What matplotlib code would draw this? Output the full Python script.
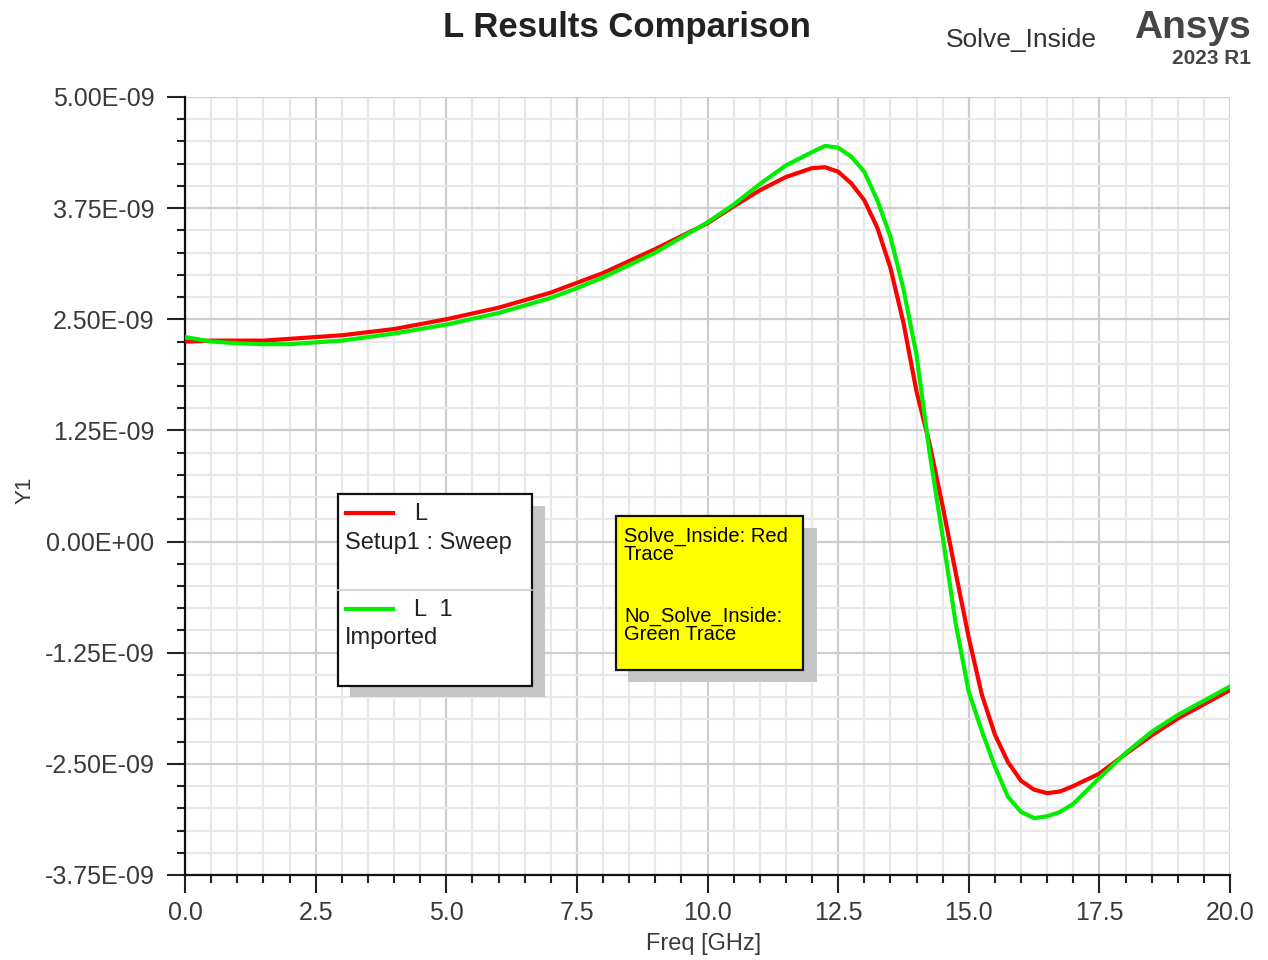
import numpy as np
import matplotlib
matplotlib.use("Agg")
import matplotlib.pyplot as plt
from matplotlib.patches import Rectangle
from matplotlib.lines import Line2D
from matplotlib.ticker import MultipleLocator, FuncFormatter

# frequency points (GHz) and inductance values (nH)
freq_ghz = [0.0, 0.1, 0.5, 1.0, 1.5, 2.0, 2.5, 3.0, 4.0, 5.0, 6.0, 7.0, 7.5, 8.0,
            9.0, 10.0, 10.5, 11.0, 11.5, 12.0, 12.25, 12.5, 12.75, 13.0, 13.25,
            13.5, 13.75, 14.0, 14.25, 14.5, 14.75, 15.0, 15.25, 15.5, 15.75,
            16.0, 16.25, 16.5, 16.75, 17.0, 17.5, 18.0, 18.5, 19.0, 19.5, 20.0]

# red trace: L, Setup1 : Sweep (Solve_Inside)
l_sweep_nh = [2.25, 2.25, 2.26, 2.26, 2.26, 2.28, 2.30, 2.32, 2.39, 2.50, 2.63,
              2.80, 2.91, 3.02, 3.29, 3.58, 3.77, 3.95, 4.10, 4.20, 4.21, 4.16,
              4.03, 3.84, 3.53, 3.08, 2.46, 1.69, 1.10, 0.40, -0.35, -1.08,
              -1.72, -2.17, -2.48, -2.69, -2.79, -2.83, -2.81, -2.75, -2.61,
              -2.39, -2.18, -1.99, -1.83, -1.67]

# green trace: L 1, Imported (No_Solve_Inside)
l_imported_nh = [2.30, 2.29, 2.25, 2.23, 2.22, 2.22, 2.24, 2.26, 2.34, 2.44, 2.57,
                 2.74, 2.85, 2.97, 3.25, 3.59, 3.79, 4.02, 4.23, 4.38, 4.45, 4.43,
                 4.33, 4.16, 3.84, 3.43, 2.84, 2.10, 1.00, 0.06, -0.92, -1.69,
                 -2.13, -2.53, -2.87, -3.04, -3.11, -3.09, -3.04, -2.95, -2.66,
                 -2.38, -2.14, -1.95, -1.79, -1.63]

plt.rcParams['font.family'] = ['Liberation Sans', 'DejaVu Sans']

W, H = 1268, 960
fig = plt.figure(figsize=(W / 100, H / 100), dpi=100)
ax = fig.add_axes([185 / W, 1 - 875 / H, (1230 - 185) / W, (875 - 97) / H])

def fx(px):
    return px / W

def fy(py):
    return 1 - py / H

freq = np.array(freq_ghz)
ax.plot(freq, np.array(l_sweep_nh) * 1e-9, color='#ff0000', lw=3.0, zorder=3)
ax.plot(freq, np.array(l_imported_nh) * 1e-9, color='#00ee00', lw=3.0, zorder=4)

ax.set_xlim(0, 20)
ax.set_ylim(-3.75e-9, 5e-9)
ax.xaxis.set_major_locator(MultipleLocator(2.5))
ax.xaxis.set_minor_locator(MultipleLocator(0.5))
ax.yaxis.set_major_locator(MultipleLocator(1.25e-9))
ax.yaxis.set_minor_locator(MultipleLocator(0.25e-9))
ax.xaxis.set_major_formatter(FuncFormatter(lambda v, p: f"{v:.1f}"))
ax.yaxis.set_major_formatter(FuncFormatter(lambda v, p: f"{v:.2E}".replace("-0.00", "0.00")))

ax.grid(which='major', color='#cdcdcd', lw=1.6, zorder=0)
ax.grid(which='minor', color='#e8e8e8', lw=1.6, zorder=0)
ax.set_axisbelow(True)

ax.tick_params(which='major', length=13, width=1.5, color='#222222',
               labelsize=18, labelcolor='#3a3a3a', pad=6)
ax.tick_params(axis='y', which='major', pad=9)
ax.tick_params(which='minor', length=6, width=1.5, color='#222222')

for side in ['top', 'right']:
    ax.spines[side].set_visible(False)
for side in ['left', 'bottom']:
    ax.spines[side].set_linewidth(1.6)
    ax.spines[side].set_color('#111111')

fig.text(fx(704), fy(944), "Freq [GHz]", fontsize=17, color='#3a3a3a',
         ha='center', va='center')
fig.text(fx(25), fy(490), "Y1", fontsize=16, color='#3a3a3a',
         ha='center', va='center', rotation=90)

# header texts
fig.text(fx(627), fy(27), "L Results Comparison", fontsize=25, fontweight='bold',
         color='#222222', ha='center', va='center')
fig.text(fx(1021), fy(40), "Solve_Inside", fontsize=19, color='#333333',
         ha='center', va='center')
fig.text(fx(1251), fy(28), "Ansys", fontsize=28, fontweight='bold',
         color='#454545', ha='right', va='center')
fig.text(fx(1251), fy(59), "2023 R1", fontsize=15, fontweight='bold',
         color='#454545', ha='right', va='center')

# legend box with drop shadow
fig.add_artist(Rectangle((fx(350), fy(697)), (545 - 350) / W, (697 - 506) / H,
                         transform=fig.transFigure, facecolor='#c6c6c6',
                         edgecolor='none', zorder=5))
fig.add_artist(Rectangle((fx(338), fy(686)), (532 - 338) / W, (686 - 494) / H,
                         transform=fig.transFigure, facecolor='white',
                         edgecolor='#111111', lw=1.6, zorder=6))
fig.add_artist(Line2D([fx(338), fx(532)], [fy(590), fy(590)],
                      transform=fig.transFigure, color='#cccccc', lw=1.2, zorder=7))
fig.add_artist(Line2D([fx(346), fx(393)], [fy(513), fy(513)],
                      transform=fig.transFigure, color='#ff0000', lw=3.0, zorder=7))
fig.add_artist(Line2D([fx(346), fx(393)], [fy(609), fy(609)],
                      transform=fig.transFigure, color='#00ee00', lw=3.0, zorder=7))
fig.text(fx(414), fy(514), "L", fontsize=17, color='#222222', va='center', zorder=8)
fig.text(fx(345), fy(543), "Setup1 : Sweep", fontsize=17, color='#222222',
         va='center', zorder=8)
fig.text(fx(414), fy(610), "L  1", fontsize=17, color='#222222', va='center', zorder=8)
fig.text(fx(345), fy(638), "Imported", fontsize=17, color='#222222',
         va='center', zorder=8)

# yellow note with drop shadow
fig.add_artist(Rectangle((fx(628), fy(682)), (817 - 628) / W, (682 - 528) / H,
                         transform=fig.transFigure, facecolor='#c6c6c6',
                         edgecolor='none', zorder=5))
fig.add_artist(Rectangle((fx(616), fy(670)), (803 - 616) / W, (670 - 516) / H,
                         transform=fig.transFigure, facecolor='#ffff00',
                         edgecolor='#111111', lw=1.6, zorder=6))
fig.text(fx(624), fy(527), "Solve_Inside: Red\nTrace", fontsize=14.5,
         color='black', va='top', linespacing=0.95, zorder=8)
fig.text(fx(624), fy(607), "No_Solve_Inside:\nGreen Trace", fontsize=14.5,
         color='black', va='top', linespacing=0.95, zorder=8)

fig.savefig("out.png", dpi=100)
